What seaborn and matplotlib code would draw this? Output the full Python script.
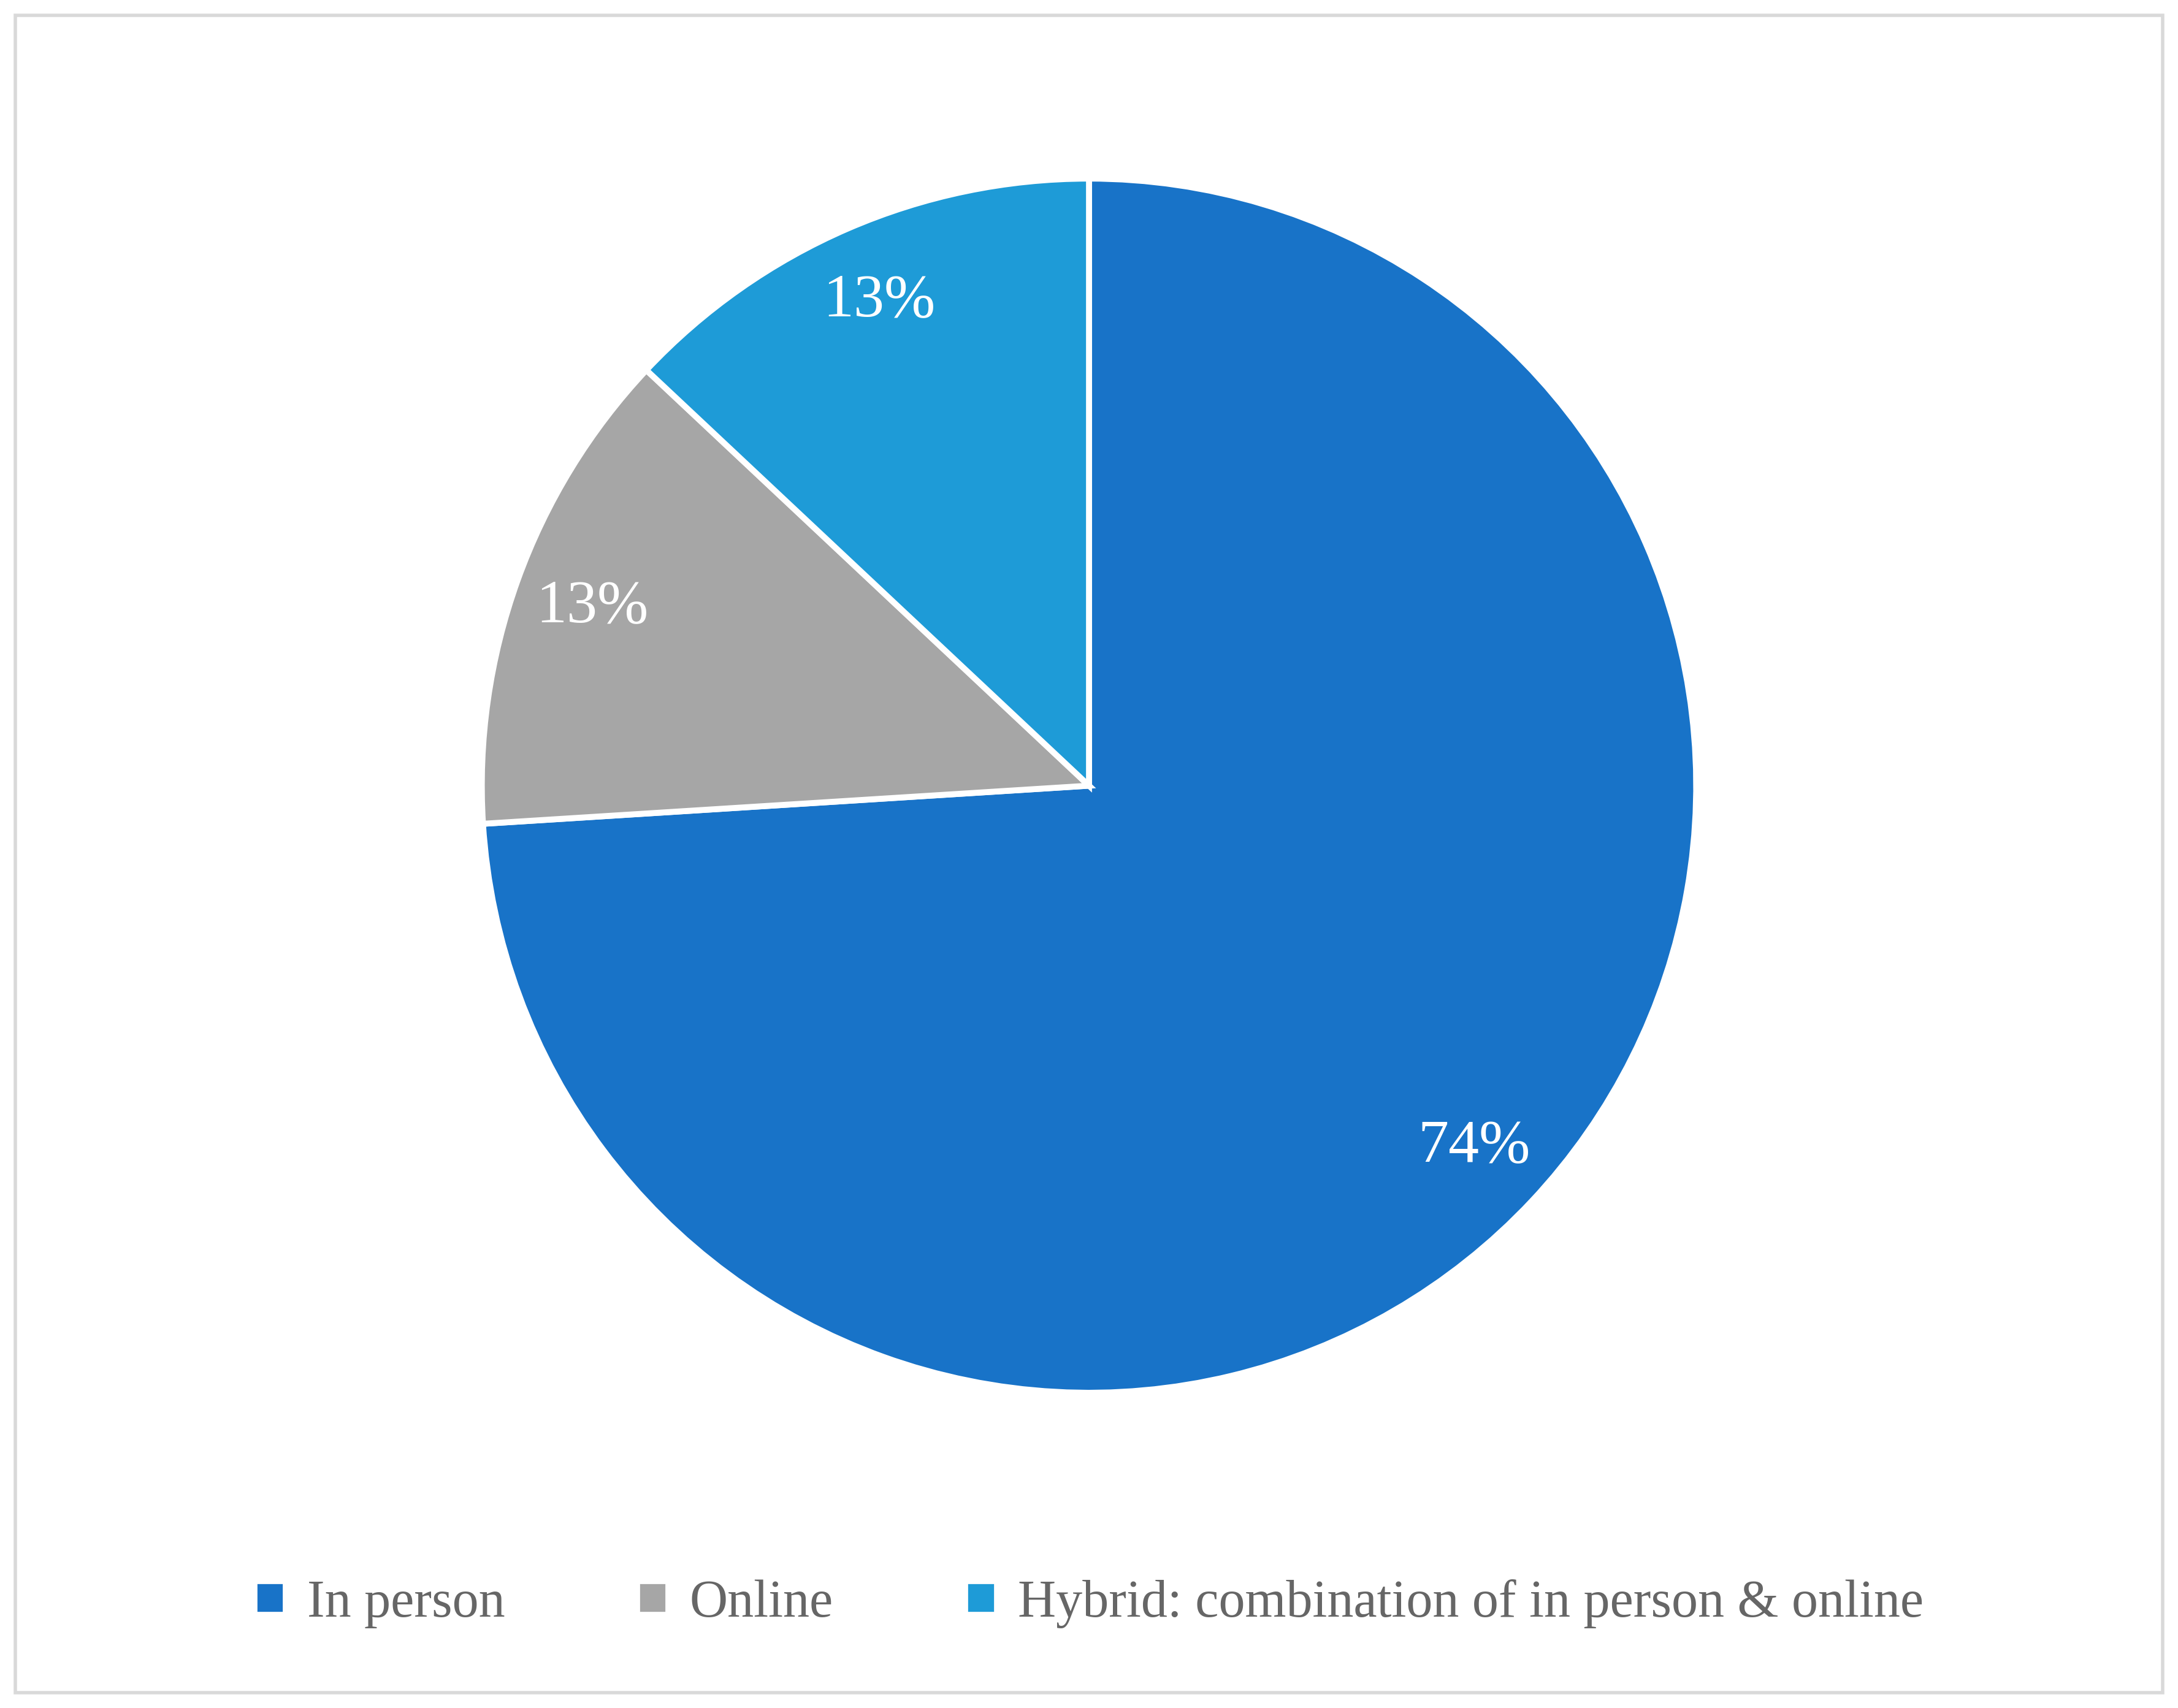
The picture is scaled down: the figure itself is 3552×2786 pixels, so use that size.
import matplotlib
matplotlib.use("Agg")
import matplotlib.pyplot as plt
import seaborn as sns
from matplotlib.patches import Rectangle

# data
categories = ["In person", "Online", "Hybrid: combination of in person & online"]
shares = [74, 13, 13]
colors = ["#1873C8", "#A6A6A6", "#1E9BD7"]

sns.set_theme(style="white")
plt.rcParams["font.family"] = ["Liberation Serif", "DejaVu Serif"]

fig = plt.figure(figsize=(17.76, 13.93), dpi=200)
fig.patch.set_facecolor("white")
fig.add_artist(Rectangle((0.007, 0.009), 0.986, 0.982, transform=fig.transFigure,
                         fill=False, edgecolor="#D9D9D9", linewidth=2))

ax = fig.add_axes([0.5 - 0.282, 0.54 - 0.359, 0.564, 0.718])
wedges, texts, autotexts = ax.pie(
    shares, colors=colors, startangle=90, counterclock=False,
    autopct="%1.0f%%", pctdistance=0.87,
    wedgeprops=dict(edgecolor="white", linewidth=3.5),
    textprops=dict(color="white", fontsize=36))
ax.set_xlim(-1.01, 1.01)
ax.set_ylim(-1.01, 1.01)
ax.set_aspect("equal")

fig.legend(wedges, categories, loc="center", bbox_to_anchor=(0.5, 0.061),
           ncol=3, frameon=False, fontsize=31, labelcolor="#666666",
           handlelength=0.6, handleheight=0.6, handletextpad=0.4,
           columnspacing=2.5)

fig.savefig("out.png", dpi=200, facecolor="white")
